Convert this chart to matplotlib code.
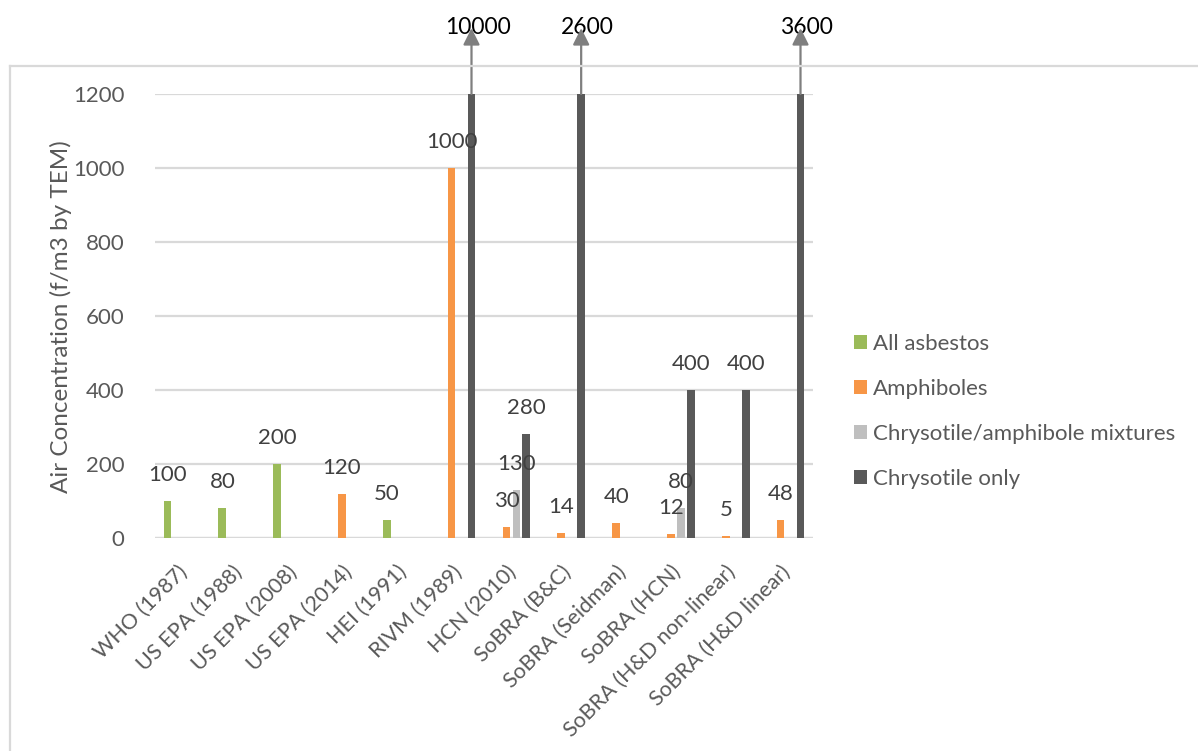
import numpy as np
import matplotlib
matplotlib.use("Agg")
import matplotlib.pyplot as plt
import matplotlib.transforms as mtransforms
from matplotlib.lines import Line2D
from matplotlib.patches import Patch

plt.rcParams['font.family'] = ['Lato', 'DejaVu Sans']

categories = ["WHO (1987)", "US EPA (1988)", "US EPA (2008)", "US EPA (2014)",
              "HEI (1991)", "RIVM (1989)", "HCN (2010)", "SoBRA (B&C)",
              "SoBRA (Seidman)", "SoBRA (HCN)", "SoBRA (H&D non-linear)",
              "SoBRA (H&D linear)"]
nan = np.nan
all_asbestos = [100, 80, 200, nan, 50, nan, nan, nan, nan, nan, nan, nan]
amphiboles = [nan, nan, nan, 120, nan, 1000, 30, 14, 40, 12, 5, 48]
mixtures = [nan, nan, nan, nan, nan, nan, 130, nan, nan, 80, nan, nan]
chrysotile = [nan, nan, nan, nan, nan, 10000, 280, 2600, nan, 400, 400, 3600]

series_names = ["All asbestos", "Amphiboles", "Chrysotile/amphibole mixtures",
                "Chrysotile only"]
series_values = [all_asbestos, amphiboles, mixtures, chrysotile]
series_colors = ["#9BBB59", "#F79646", "#BFBFBF", "#595959"]

y_max = 1200
y_ticks = [0, 200, 400, 600, 800, 1000, 1200]

W, H = 1198, 751
fig = plt.figure(figsize=(W / 100, H / 100), dpi=100)


def fx(px):
    return px / W


def fy(py):
    return 1 - py / H


def px2pt(p):
    return p * 72 / 100


ax = fig.add_axes([fx(155), fy(538), fx(813) - fx(155), fy(94) - fy(538)])

TEXT_GREY = "#595959"
GRID = "#D9D9D9"
FS = 16

x = np.arange(len(categories))
offsets = [-0.272, -0.09, 0.09, 0.272]
bar_w = 0.14

# value labels that overflow the axis sit above it, nudged to the right
overflow_shift = mtransforms.ScaledTranslation(6 / 100, 0, fig.dpi_scale_trans)
overflow_label_y = 1381
overflow_arrow_y = 1378

for vals, off, col in zip(series_values, offsets, series_colors):
    vals = np.array(vals, dtype=float)
    ax.bar(x + off, vals, width=bar_w, color=col, zorder=3)
    for xi, v in zip(x + off, vals):
        if np.isnan(v):
            continue
        if v <= y_max:
            ax.annotate(f"{int(v)}", xy=(xi, v), xytext=(0, px2pt(26)),
                        textcoords="offset points", ha="center", va="center",
                        fontsize=FS, color="#404040", zorder=4)
        else:
            ax.text(xi, overflow_label_y, f"{int(v)}", ha="center",
                    va="center", fontsize=16.5, color="black", clip_on=False,
                    transform=ax.transData + overflow_shift)
            ax.annotate("", xy=(xi, overflow_arrow_y), xytext=(xi, y_max),
                        arrowprops=dict(arrowstyle="-|>", color="#7F7F7F",
                                        lw=1.6, mutation_scale=25,
                                        shrinkA=0, shrinkB=0),
                        annotation_clip=False, zorder=5)

ax.set_xlim(-0.5, len(categories) - 0.5)
ax.set_ylim(0, y_max)
ax.set_yticks(y_ticks)
ax.set_yticklabels([str(t) for t in y_ticks], fontsize=FS, color=TEXT_GREY)
ax.yaxis.grid(True, color=GRID, lw=1.6, zorder=0)
ax.set_axisbelow(True)
ax.tick_params(axis="both", length=0)
ax.tick_params(axis="y", pad=22)
for s in ax.spines.values():
    s.set_visible(False)
ax.axhline(0, color=GRID, lw=1.6, zorder=1)

ax.set_xticks(x)
ax.set_xticklabels([])
for xi, lab in zip(x, categories):
    ax.annotate(lab, xy=(xi, 0), xytext=(px2pt(2), px2pt(-31)),
                textcoords="offset points", rotation=45, ha="right",
                va="center", rotation_mode="anchor", fontsize=15.5,
                color=TEXT_GREY, annotation_clip=False)

fig.text(fx(61), fy(317), "Air Concentration (f/m3 by TEM)", rotation=90,
         ha="center", va="center", fontsize=17.5, color=TEXT_GREY)

handles = [Patch(facecolor=c, edgecolor="none") for c in series_colors]
fig.legend(handles, series_names, loc="center left",
           bbox_to_anchor=(fx(854), fy(411.5)), frameon=False, fontsize=FS,
           labelcolor=TEXT_GREY, handlelength=0.57, handleheight=0.57,
           handletextpad=0.3, labelspacing=1.12, borderpad=0,
           borderaxespad=0)

# chart area border
fig.add_artist(Line2D([fx(10), 1.0], [fy(66), fy(66)], color=GRID, lw=1.6))
fig.add_artist(Line2D([fx(10), fx(10)], [fy(66), 0.0], color=GRID, lw=1.6))

fig.savefig("out.png", dpi=100)
